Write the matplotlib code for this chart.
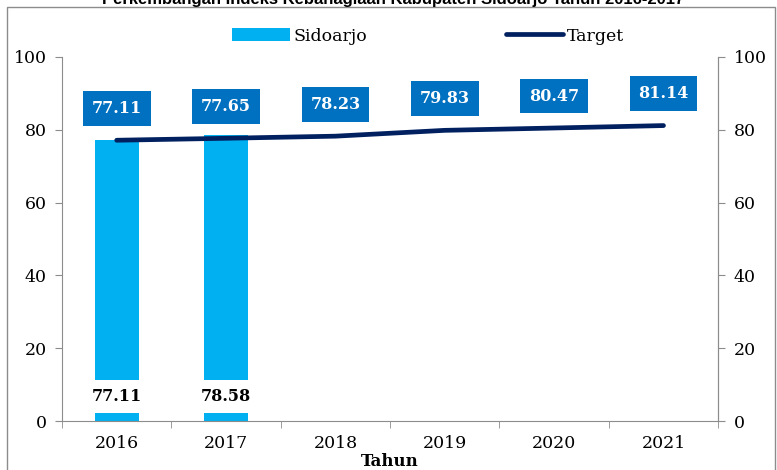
import numpy as np
import matplotlib.pyplot as plt
from matplotlib.patches import Rectangle

# Data
years = ["2016", "2017", "2018", "2019", "2020", "2021"]
sidoarjo = [77.11, 78.58]
target = [77.11, 77.65, 78.23, 79.83, 80.47, 81.14]

BAR_COLOR = "#00B0F0"
LINE_COLOR = "#002060"
BOX_COLOR = "#0070C0"
AXIS_GRAY = "#8C8C8C"

plt.rcParams["font.family"] = ["DejaVu Serif"]

fig = plt.figure(figsize=(7.77, 4.70), dpi=100)
ax = fig.add_axes([0.0798, 0.104, 0.8445, 0.775])

x = np.arange(len(years))
x_bar = x[:len(sidoarjo)]

bars = ax.bar(x_bar, sidoarjo, width=0.4, color=BAR_COLOR, label="Sidoarjo", zorder=2)
line, = ax.plot(x, target, color=LINE_COLOR, lw=3.4, solid_capstyle="round",
                label="Target", zorder=3)

# labels inside the bars (white box over the bar)
for xi, v in zip(x_bar, sidoarjo):
    ax.annotate("{:.2f}".format(v), (xi, 0), xytext=(0, 17.5),
                textcoords="offset points", ha="center", va="center",
                fontsize=11.5, fontweight="bold", color="black", zorder=4,
                bbox=dict(boxstyle="square,pad=0.5", fc="white", ec="none"))

# target labels in blue boxes
for xi, v in zip(x, target):
    ax.annotate("{:.2f}".format(v), (xi, v), xytext=(0, 23),
                textcoords="offset points", ha="center", va="center",
                fontsize=11.5, fontweight="bold", color="white", zorder=4,
                bbox=dict(boxstyle="square,pad=0.55", fc=BOX_COLOR, ec="none"))

ax.set_xlim(-0.5, len(years) - 0.5)
ax.set_ylim(0, 100)
ax.set_yticks(range(0, 101, 20))
ax.set_xticks(x)
ax.set_xticklabels(years)
ax.set_xticks(np.arange(-0.5, len(years), 1), minor=True)
ax.tick_params(axis="x", which="major", length=0, pad=10, labelsize=12.5)
ax.tick_params(axis="x", which="minor", length=5, color=AXIS_GRAY, direction="out")
ax.tick_params(axis="y", length=5, color=AXIS_GRAY, direction="out", labelsize=12.5, pad=6)

for side in ["left", "bottom", "right"]:
    ax.spines[side].set_color(AXIS_GRAY)
ax.spines["top"].set_visible(False)

ax2 = ax.twinx()
ax2.set_ylim(0, 100)
ax2.set_yticks(range(0, 101, 20))
ax2.tick_params(axis="y", length=5, color=AXIS_GRAY, direction="out", labelsize=12.5, pad=6)
for side in ["top", "left", "bottom"]:
    ax2.spines[side].set_visible(False)
ax2.spines["right"].set_color(AXIS_GRAY)

ax.set_xlabel("Tahun", fontsize=12, fontweight="bold")
ax.xaxis.set_label_coords(0.5, -0.088)

fig.legend([bars, line], ["Sidoarjo", "Target"], loc="center",
           bbox_to_anchor=(0.551, 0.923), ncol=2, frameon=False,
           fontsize=12.5, handlelength=3.3, handleheight=0.8,
           columnspacing=8.0, handletextpad=0.2)

fig.text(0.506, 0.9915, "Perkembangan Indeks Kebahagiaan Kabupaten Sidoarjo Tahun 2016-2017",
         ha="center", va="baseline", fontsize=12, fontweight="bold",
         family=["Liberation Sans"])

fig.patches.append(Rectangle((0.009, -0.01), 0.988, 0.995, transform=fig.transFigure,
                             fill=False, ec=AXIS_GRAY, lw=1))

fig.savefig("out.png", dpi=100)
